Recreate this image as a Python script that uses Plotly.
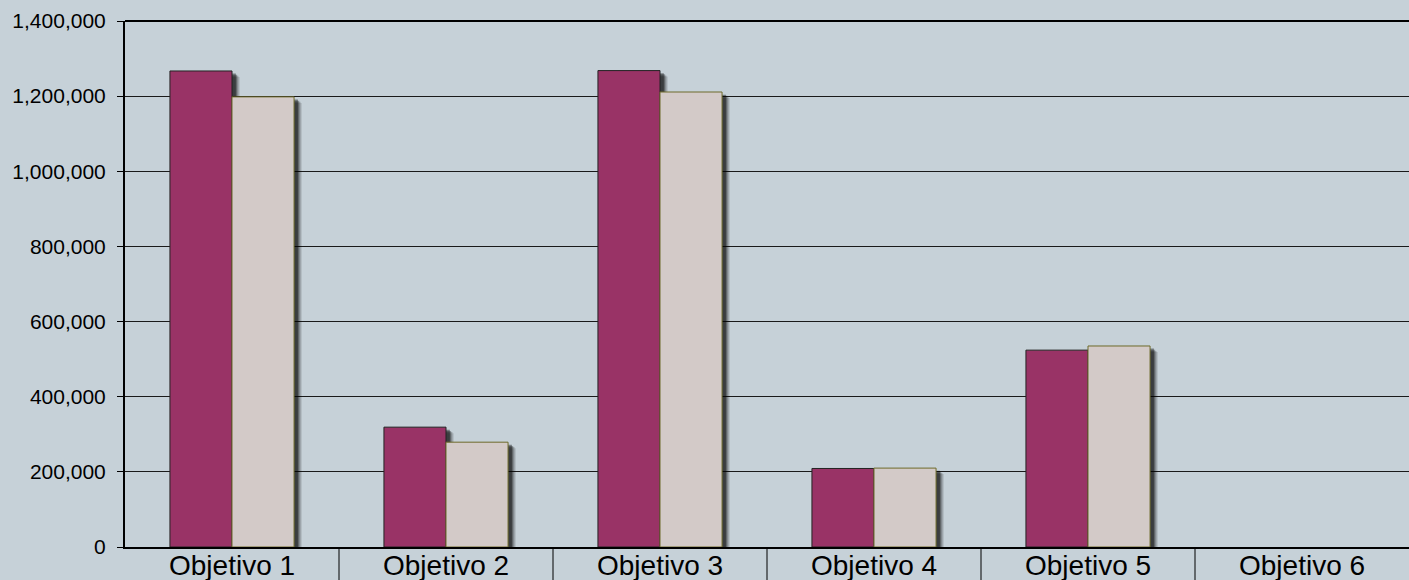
import plotly.graph_objects as go

categories = ["Objetivo 1", "Objetivo 2", "Objetivo 3", "Objetivo 4", "Objetivo 5", "Objetivo 6"]
series_a = [1267000, 319000, 1268000, 209000, 524000, 0]
series_b = [1198000, 279000, 1211000, 210000, 535000, 0]
tick_vals = [0, 200000, 400000, 600000, 800000, 1000000, 1200000, 1400000]
tick_text = ["0", "200,000", "400,000", "600,000", "800,000", "1,000,000", "1,200,000", "1,400,000"]

BG = "#C6D1D8"
W = 0.29
fig = go.Figure()

# soft shadows (several layers)
for dx, dy, op in [(0.036, 16000, 0.12), (0.030, 13000, 0.2), (0.024, 10000, 0.3), (0.018, 7000, 0.4)]:
    for off, vals in [(-W, series_a), (0, series_b)]:
        fig.add_trace(go.Bar(
            x=categories, y=[max(v - dy, 0) for v in vals],
            offset=off + dx, width=W,
            marker=dict(color=f"rgba(0,0,0,{op})", line=dict(width=0)),
            showlegend=False, hoverinfo="skip"))

fig.add_trace(go.Bar(x=categories, y=series_a, offset=-W, width=W,
                     marker=dict(color="#993366",
                                 line=dict(color="#222222", width=[1 if v > 0 else 0 for v in series_a])),
                     name="A"))
fig.add_trace(go.Bar(x=categories, y=series_b, offset=0, width=W,
                     marker=dict(color="#D3CAC8",
                                 line=dict(color="#6E6A2A", width=[1 if v > 0 else 0 for v in series_b])),
                     name="B"))

fig.update_layout(
    width=1409, height=580,
    margin=dict(l=125, r=0, t=21, b=33, autoexpand=False),
    paper_bgcolor=BG, plot_bgcolor=BG,
    barmode="overlay", showlegend=False,
    font=dict(family="Liberation Sans, Arial, sans-serif", color="#000000"),
)
fig.update_yaxes(range=[0, 1400000], tickvals=tick_vals, ticktext=tick_text,
                 showgrid=True, gridcolor="#1a1a1a", gridwidth=1,
                 showline=True, linecolor="#000000", linewidth=2,
                 ticks="outside", ticklen=6, tickcolor="#000000",
                 ticklabelstandoff=7, automargin=False,
                 tickfont=dict(size=21), zeroline=False)
fig.update_xaxes(type="category", showline=True, linecolor="#000000", linewidth=2,
                 ticks="", showticklabels=False, showgrid=False, automargin=False,
                 range=[-0.5, 5.5])
fig.add_shape(type="line", xref="paper", yref="paper", x0=0, x1=1, y0=1, y1=1,
              line=dict(color="#000000", width=2))
# category separators below the axis
for i in range(len(categories) - 1):
    fig.add_shape(type="line", xref="x", yref="paper", x0=i + 0.5, x1=i + 0.5,
                  y0=0, y1=-0.07, line=dict(color="#000000", width=1))
# category labels
for c in categories:
    fig.add_annotation(x=c, xref="x", y=0, yref="paper", yanchor="middle",
                       yshift=-18, text=c, showarrow=False,
                       font=dict(size=28, color="#000000"))

fig.write_html("out.html", config={"displayModeBar": False},
               post_script="document.body.style.margin='0';document.body.style.overflow='hidden';")
